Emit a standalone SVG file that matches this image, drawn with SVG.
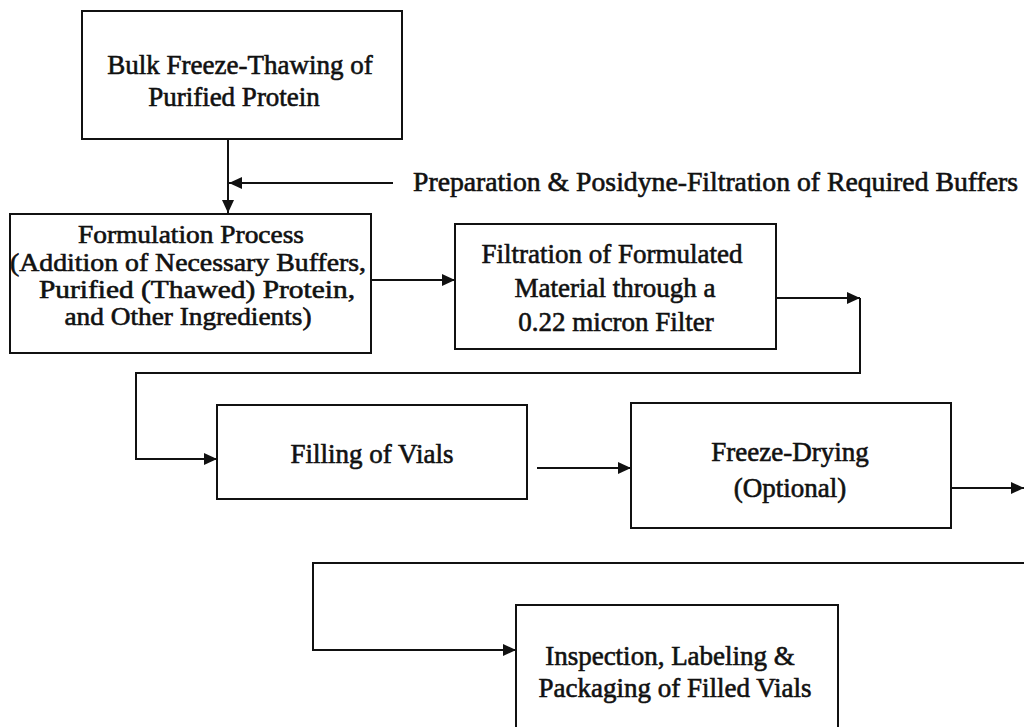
<svg xmlns="http://www.w3.org/2000/svg" width="1024" height="727" viewBox="0 0 1024 727">
<style>
.box{fill:#fff;stroke:#111;stroke-width:2}
.t{font-family:"Liberation Serif","Times New Roman",serif;font-size:27px;fill:#111;stroke:#111;stroke-width:0.6;text-anchor:middle}
.s{font-size:25.5px}
.c{fill:none;stroke:#111;stroke-width:2}
</style>
<defs>
<marker id="ah" markerUnits="userSpaceOnUse" markerWidth="14" markerHeight="12" refX="13" refY="6" orient="auto">
<path d="M0,0 L13,6 L0,12 Z" fill="#111"/>
</marker>
</defs>
<rect width="1024" height="727" fill="#fff"/>
<g id="connectors">
<line class="c" x1="228" y1="139" x2="228" y2="213" marker-end="url(#ah)"/>
<line class="c" x1="393" y1="183" x2="229" y2="183" marker-end="url(#ah)"/>
<line class="c" x1="371" y1="280" x2="455" y2="280" marker-end="url(#ah)"/>
<polyline class="c" points="776,298 860,298" marker-end="url(#ah)"/>
<polyline class="c" points="860,298 860,373 136,373 136,459 217,459" marker-end="url(#ah)"/>
<line class="c" x1="537" y1="468" x2="631" y2="468" marker-end="url(#ah)"/>
<line class="c" x1="951" y1="488" x2="1024" y2="488" marker-end="url(#ah)"/>
<polyline class="c" points="1024,563 313,563 313,650 516,650" marker-end="url(#ah)"/>
</g>
<g id="n1">
<rect class="box" x="82" y="11" width="320" height="128"/>
<text class="t" x="240" y="74">Bulk Freeze-Thawing of</text>
<text class="t" x="234" y="106">Purified Protein</text>
</g>
<g id="label">
<text class="t" x="413" y="191" style="text-anchor:start" textLength="605" lengthAdjust="spacingAndGlyphs">Preparation &amp; Posidyne-Filtration of Required Buffers</text>
</g>
<g id="n2">
<rect class="box" x="10" y="214" width="361" height="139"/>
<text class="t s" x="191" y="243" textLength="226" lengthAdjust="spacingAndGlyphs">Formulation Process</text>
<text class="t s" x="188" y="271" textLength="356" lengthAdjust="spacingAndGlyphs">(Addition of Necessary Buffers,</text>
<text class="t s" x="197" y="298" textLength="316" lengthAdjust="spacingAndGlyphs">Purified (Thawed) Protein,</text>
<text class="t s" x="188" y="325" textLength="247" lengthAdjust="spacingAndGlyphs">and Other Ingredients)</text>
</g>
<g id="n3">
<rect class="box" x="455" y="224" width="321" height="125"/>
<text class="t" x="612" y="263">Filtration of Formulated</text>
<text class="t" x="615" y="297">Material through a</text>
<text class="t" x="616" y="331">0.22 micron Filter</text>
</g>
<g id="n4">
<rect class="box" x="217" y="405" width="310" height="94"/>
<text class="t" x="372" y="463">Filling of Vials</text>
</g>
<g id="n5">
<rect class="box" x="631" y="403" width="320" height="125"/>
<text class="t" x="790" y="461">Freeze-Drying</text>
<text class="t" x="790" y="497">(Optional)</text>
</g>
<g id="n6">
<rect class="box" x="516" y="605" width="322" height="140"/>
<text class="t" x="670" y="665">Inspection, Labeling &amp;</text>
<text class="t" x="675" y="697">Packaging of Filled Vials</text>
</g>
</svg>
